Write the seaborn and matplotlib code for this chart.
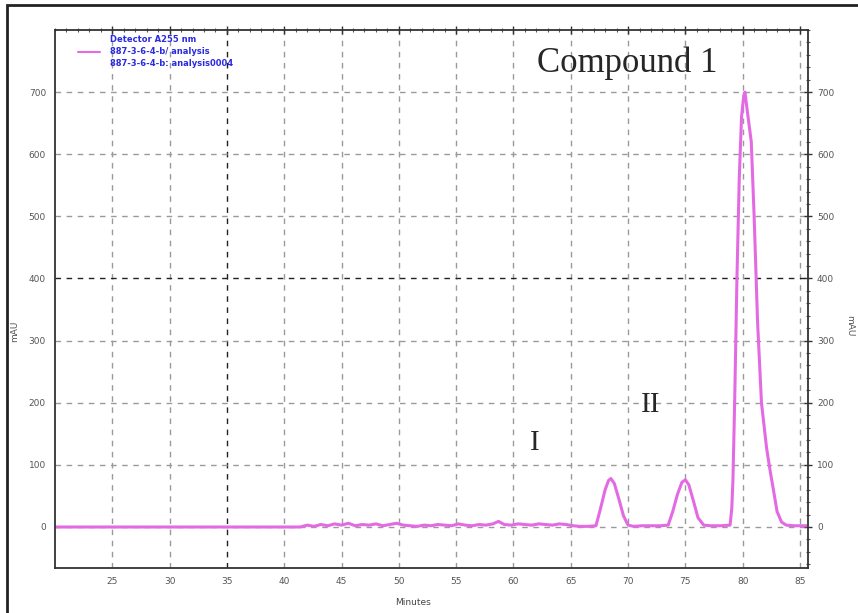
import matplotlib
matplotlib.use("Agg")
import matplotlib.pyplot as plt
import matplotlib.patches as mpatches
from matplotlib.ticker import MultipleLocator
import seaborn as sns
import pandas as pd

# chromatogram trace (minutes, mAU)
minutes = [20.0, 30.0, 40.0, 41.4, 42.0, 42.6, 43.2, 43.8, 44.4, 45.0, 45.6, 46.2,
           46.8, 47.4, 48.0, 48.6, 49.2, 49.8, 50.4, 51.0, 51.6, 52.2, 52.8, 53.4,
           54.0, 54.6, 55.2, 55.8, 56.4, 57.0, 57.6, 58.2, 58.7, 59.2, 59.8, 60.4,
           61.0, 61.6, 62.2, 62.8, 63.4, 64.0, 64.6, 65.2, 65.8, 66.4, 67.2, 67.6,
           68.0, 68.3, 68.5, 68.8, 69.2, 69.6, 70.0, 70.5, 71.2, 72.0, 72.8, 73.5,
           73.9, 74.3, 74.7, 75.0, 75.3, 75.7, 76.1, 76.6, 77.2, 78.0, 78.9, 79.05,
           79.15, 79.3, 79.5, 79.7, 79.9, 80.1, 80.2, 80.4, 80.75, 81.0, 81.3, 81.64,
           82.08, 82.4, 82.69, 83.0, 83.39, 83.8, 84.5, 85.7]
mau = [0, 0, 0, 0, 3, 1, 4, 2, 5, 3, 6, 2,
       4, 3, 5, 2, 4, 6, 3, 2, 1, 3, 2, 4,
       3, 2, 5, 3, 2, 4, 3, 5, 9, 4, 3, 5,
       4, 3, 5, 4, 3, 5, 4, 2, 1, 1, 2, 30,
       60, 75, 78, 70, 45, 18, 3, 1, 2, 2, 2, 3,
       25, 52, 72, 76, 68, 42, 15, 3, 2, 2, 3, 30,
       75, 200, 400, 560, 660, 695, 700, 670, 620, 500, 330, 200,
       128, 90, 59, 25, 8, 3, 2, 2]

legend_lines = ["Detector A255 nm", "887-3-6-4-b/ analysis", "887-3-6-4-b: analysis0004"]
x_ticks = [25, 30, 35, 40, 45, 50, 55, 60, 65, 70, 75, 80, 85]
y_ticks = [0, 100, 200, 300, 400, 500, 600, 700]

df = pd.DataFrame({"Minutes": minutes, "mAU": mau})

sns.set_style("white")
plt.rcParams["font.family"] = ["DejaVu Sans"]

fig = plt.figure(figsize=(8.58, 6.13), dpi=100)
ax = fig.add_axes([55 / 858, 45 / 613, 753 / 858, 538 / 613])

sns.lineplot(data=df, x="Minutes", y="mAU", ax=ax, color="#e46ae4", linewidth=2.2)

ax.set_xlim(20.0, 85.7)
ax.set_ylim(-66, 800)
ax.set_xticks(x_ticks)
ax.set_yticks(y_ticks)
ax.xaxis.set_minor_locator(MultipleLocator(1))
ax.yaxis.set_minor_locator(MultipleLocator(20))

# dashed grid; a couple of lines drawn darker as in the original
for xv in x_ticks:
    c = "#222222" if xv == 35 else "#9a9a9a"
    ax.axvline(xv, color=c, lw=1.0, ls=(0, (4, 4)), zorder=0)
for yv in y_ticks:
    c = "#222222" if yv == 400 else "#9a9a9a"
    ax.axhline(yv, color=c, lw=1.0, ls=(0, (4, 4)), zorder=0)

ax.tick_params(axis="both", which="major", direction="inout", length=6, width=1,
               labelsize=6.5, labelcolor="#555555", color="#333333",
               right=True, top=True, labelright=True)
ax.tick_params(axis="both", which="minor", direction="inout", length=3, width=0.8,
               color="#555555", right=True, top=True)
for s in ax.spines.values():
    s.set_color("#333333")
    s.set_linewidth(1.3)

ax.set_xlabel("Minutes", fontsize=6.5, color="#444444", labelpad=4)
ax.xaxis.set_label_coords(0.475, -0.055)
ax.set_ylabel("mAU", fontsize=6.5, color="#555555")
ax.yaxis.set_label_coords(-36 / 753, 0.44)
ax.text(1.055, 0.45, "mAU", transform=ax.transAxes, rotation=270, fontsize=6.5,
        color="#555555", ha="center", va="center")

# legend block in the upper left
for i, t in enumerate(legend_lines):
    ax.text(55 / 753, 1 - (9 + 12 * i) / 538, t, transform=ax.transAxes,
            fontsize=6, color="#2a2ae0", fontweight="bold", va="center")
ax.plot([23 / 753, 45 / 753], [1 - 22 / 538, 1 - 22 / 538], transform=ax.transAxes,
        color="#e46ae4", lw=1.5)

serif = ["Liberation Serif", "DejaVu Serif"]
ax.text(627 / 858, 1 - 63 / 613, "Compound 1", transform=fig.transFigure,
        fontsize=25, family=serif, ha="center", va="center")
ax.text(535 / 858, 1 - 443 / 613, "I", transform=fig.transFigure,
        fontsize=21, family=serif, ha="center", va="center")
ax.text(651 / 858, 1 - 405 / 613, "II", transform=fig.transFigure,
        fontsize=21, family=serif, ha="center", va="center")

# outer frame around the figure
fig.patches.append(mpatches.Rectangle((7 / 858, -0.02), 1.0, 1 - 5 / 613 + 0.02,
                                      transform=fig.transFigure, fill=False,
                                      edgecolor="#222222", linewidth=2))

fig.savefig("out.png", dpi=100)
